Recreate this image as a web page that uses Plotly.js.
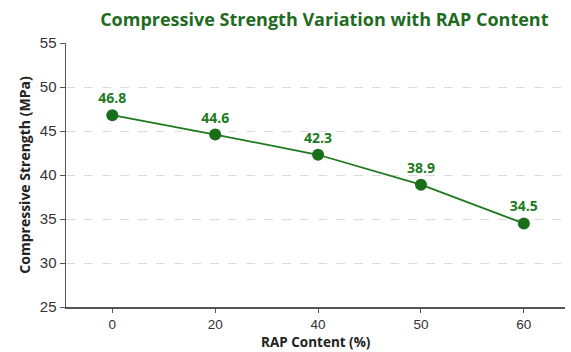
<!DOCTYPE html>
<html><head><meta charset="utf-8">
<script src="https://cdn.plot.ly/plotly-3.0.1.min.js"></script>
<style>html,body{margin:0;padding:0;background:#fff;}#chart{width:571px;height:352px;}</style>
</head><body><div id="chart"></div>
<script>
const rapContent = ["0", "20", "40", "50", "60"];
const strength = [46.8, 44.6, 42.3, 38.9, 34.5];
const labels = ["46.8", "44.6", "42.3", "38.9", "34.5"];

const green = "#1e7a1e";
Plotly.newPlot("chart", [{
  x: rapContent, y: strength, type: "scatter", mode: "lines+markers+text",
  text: labels, textposition: "top center",
  textfont: {family: "Open Sans, sans-serif", size: 14, color: green, weight: "bold"},
  line: {color: green, width: 1.8},
  marker: {color: "#1a6e1a", size: 12},
  cliponaxis: false, hoverinfo: "none"
}], {
  width: 571, height: 352,
  margin: {l: 66, r: 6, t: 43, b: 45},
  paper_bgcolor: "#fff", plot_bgcolor: "#fff",
  showlegend: false,
  title: {text: "<b>Compressive Strength Variation with RAP Content</b>",
    font: {family: "Open Sans, sans-serif", size: 18, color: "#1f6b1f"},
    x: 0.568, xanchor: "center", y: 0.945, yanchor: "middle"},
  xaxis: {type: "category", range: [-0.45, 4.4],
    showline: true, linecolor: "#555", linewidth: 1.5,
    ticks: "outside", ticklen: 4, tickcolor: "#555",
    showgrid: false, zeroline: false,
    tickfont: {family: "Liberation Sans, Arial, sans-serif", size: 13.5, color: "#333"}},
  yaxis: {range: [25, 55], dtick: 5, tick0: 25,
    showline: true, linecolor: "#555", linewidth: 1.5,
    ticks: "outside", ticklen: 5, tickcolor: "#555",
    showgrid: true, gridcolor: "#dcdcdc", griddash: "dash", gridwidth: 1,
    zeroline: false,
    tickfont: {family: "Liberation Sans, Arial, sans-serif", size: 15, color: "#333"},
    title: {text: "<b>Compressive Strength (MPa)</b>", standoff: 6,
      font: {family: "Open Sans, sans-serif", size: 14, color: "#222"}}},
  annotations: [{text: "<b>RAP Content (%)</b>", xref: "paper", yref: "paper",
    x: 0.5, y: 0, xanchor: "center", yanchor: "middle", yshift: -35, borderpad: 0, showarrow: false,
    font: {family: "Open Sans, sans-serif", size: 13.5, color: "#222"}}]
}, {displayModeBar: false, staticPlot: true});
</script></body></html>
